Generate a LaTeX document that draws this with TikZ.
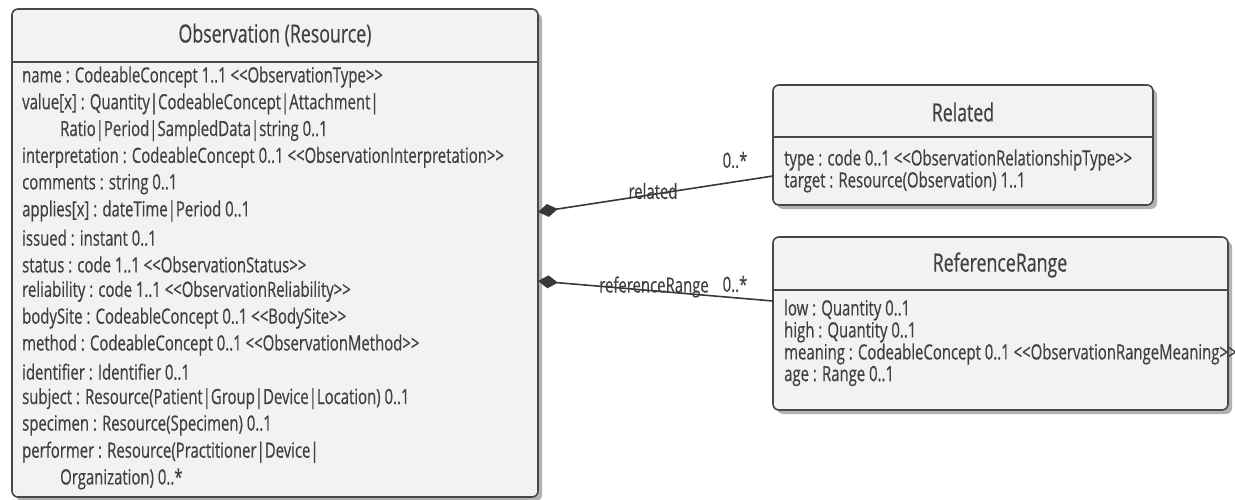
\documentclass[tikz,border=0pt]{standalone}
\usepackage{fontspec}
\setmainfont[FakeStretch=0.71,FakeBold=0.4]{Open Sans}
\usetikzlibrary{arrows.meta,shadows}
\definecolor{boxfill}{HTML}{F2F2F2}
\definecolor{boxline}{HTML}{474747}
\definecolor{txt}{HTML}{404040}
\definecolor{conn}{HTML}{383838}
\begin{document}
\begin{tikzpicture}[x=1pt,y=-1pt,
  classbox/.style={draw=boxline,line width=1.6pt,fill=boxfill,rounded corners=6pt,
    drop shadow={shadow xshift=4pt,shadow yshift=-4pt,opacity=0.5,fill=black!60}},
  sepline/.style={draw=boxline,line width=1.4pt},
  ctitle/.style={font=\fontsize{25}{27}\selectfont,text=txt,inner sep=0pt},
  attr/.style={anchor=west,font=\fontsize{21}{23}\selectfont,text=txt,inner sep=0pt},
  sattr/.style={anchor=west,font=\fontsize{21}{23}\selectfont,text=txt,inner sep=0pt},
  rlabel/.style={font=\fontsize{21}{23}\selectfont,text=txt,inner sep=0pt},
  assoc/.style={draw=conn,line width=1.6pt,{Diamond[length=20pt,width=13pt,fill=conn]}-}
]
\useasboundingbox (0,0) rectangle (1235,500);
% Observation box
\path[classbox] (12,9) rectangle (538,497);
\draw[sepline] (12,62) -- (538,62);
\node[ctitle] (obstitle) at (275,35) {Observation (Resource)};
\foreach \t/\x [count=\i from 0] in {
 {name : CodeableConcept 1..1 <{}<ObservationType>{}>}/22,
 {value[x] : Quantity|CodeableConcept|Attachment|}/22,
 {Ratio|Period|SampledData|string 0..1}/60,
 {interpretation : CodeableConcept 0..1 <{}<ObservationInterpretation>{}>}/22,
 {comments : string 0..1}/22,
 {applies[x] : dateTime|Period 0..1}/22,
 {issued : instant 0..1}/22,
 {status : code 1..1 <{}<ObservationStatus>{}>}/22,
 {reliability : code 1..1 <{}<ObservationReliability>{}>}/22,
 {bodySite : CodeableConcept 0..1 <{}<BodySite>{}>}/22,
 {method : CodeableConcept 0..1 <{}<ObservationMethod>{}>}/22,
 {identifier : Identifier 0..1}/22,
 {subject : Resource(Patient|Group|Device|Location) 0..1}/22,
 {specimen : Resource(Specimen) 0..1}/22,
 {performer : Resource(Practitioner|Device|}/22,
 {Organization) 0..*}/60}
 { \node[attr] (oa\i) at (\x,77+26.8*\i) {\t}; }
% Related box
\path[classbox] (773,85) rectangle (1153,205);
\draw[sepline] (773,137) -- (1153,137);
\node[ctitle] (reltitle) at (963,112) {Related};
\node[sattr] (ra0) at (784,160) {type : code 0..1 <{}<ObservationRelationshipType>{}>};
\node[sattr] (ra1) at (784,182) {target : Resource(Observation) 1..1};
% ReferenceRange box
\path[classbox] (773,237) rectangle (1228,410);
\draw[sepline] (773,290) -- (1228,290);
\node[ctitle] (rrtitle) at (1000,265) {ReferenceRange};
\node[sattr] (rr0) at (784,310) {low : Quantity 0..1};
\node[sattr] (rr1) at (784,332) {high : Quantity 0..1};
\node[sattr] (rr2) at (784,354) {meaning : CodeableConcept 0..1 <{}<ObservationRangeMeaning>{}>};
\node[sattr] (rr3) at (784,376) {age : Range 0..1};
% connectors
\coordinate (d1) at (538,212);
\coordinate (e1) at (773,176);
\coordinate (d2) at (538,281);
\coordinate (e2) at (773,301);
\draw[assoc] (d1) -- (e1);
\draw[assoc] (d2) -- (e2);
\node[rlabel] (lrel) at (653,191) {related};
\node[rlabel] (lrelm) at (735,160) {0..*};
\node[rlabel] (lrr) at (654,287) {referenceRange};
\node[rlabel] (lrrm) at (735,284) {0..*};
\end{tikzpicture}
\end{document}
